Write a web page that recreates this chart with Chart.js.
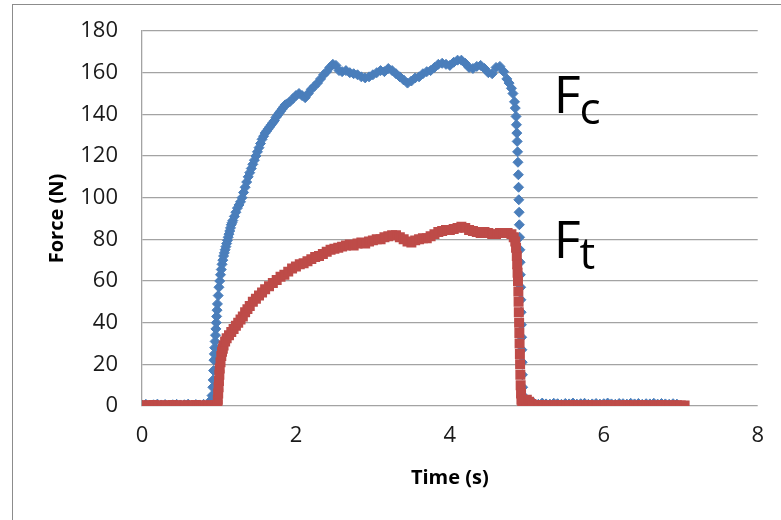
<!DOCTYPE html>
<html lang="en">
<head>
  <meta charset="UTF-8" />
  <title>Force vs Time</title>
  <script src="https://cdn.jsdelivr.net/npm/chart.js"></script>
  <style>
    html, body { margin: 0; padding: 0; background: #fff; overflow: hidden; }
    #wrap { position: relative; width: 781px; height: 520px; }
    #frame { position: absolute; left: 12px; top: 4px; width: 800px; height: 560px;
             border: 1.5px solid #8c8c8c; pointer-events: none; }
  </style>
</head>
<body>
<div id="wrap">
  <canvas id="forceChart" width="781" height="520"></canvas>
  <div id="frame"></div>
</div>

<script>
  // cutting force Fc (blue diamonds)
  const fcTime = [
    0, 0.05, 0.1, 0.15, 0.2, 0.25, 0.3, 0.35, 0.4, 0.45, 0.5, 0.55, 0.6, 0.65, 0.7, 0.75, 0.8, 0.85,
    0.88, 0.9, 0.91, 0.92, 0.925, 0.93, 0.935, 0.94, 0.945, 0.95, 0.955, 0.96, 0.965, 0.97, 0.975, 0.98, 0.99,
    1.0, 1.01, 1.02, 1.03, 1.04, 1.05, 1.06, 1.07, 1.08, 1.09, 1.1, 1.11, 1.12, 1.13, 1.14, 1.15, 1.16, 1.17,
    1.18, 1.2, 1.22, 1.24, 1.26, 1.28, 1.3, 1.32, 1.34, 1.36, 1.38, 1.4, 1.42, 1.44, 1.46, 1.48, 1.5, 1.52,
    1.54, 1.56, 1.58, 1.6, 1.62, 1.64, 1.66, 1.68, 1.7, 1.72, 1.74, 1.76, 1.78, 1.8, 1.82, 1.84, 1.86, 1.88,
    1.92, 1.96, 2.0, 2.04, 2.08, 2.12, 2.16, 2.2, 2.24, 2.28, 2.32, 2.36, 2.4, 2.44, 2.48, 2.52, 2.56, 2.6,
    2.65, 2.7, 2.75, 2.8, 2.85, 2.9, 2.95, 3.0, 3.05, 3.1, 3.15, 3.2, 3.25, 3.3, 3.35, 3.4, 3.45, 3.5, 3.55, 3.6,
    3.65, 3.7, 3.75, 3.8, 3.85, 3.9, 3.95, 4.0, 4.05, 4.1, 4.15, 4.2, 4.25, 4.3, 4.35, 4.4, 4.45, 4.5, 4.55, 4.6,
    4.65, 4.7, 4.74, 4.77, 4.8, 4.82, 4.84, 4.85, 4.86, 4.865, 4.87, 4.875, 4.88, 4.885, 4.89, 4.893, 4.896,
    4.9, 4.903, 4.906, 4.91, 4.913, 4.916, 4.92, 4.923, 4.926, 4.93, 4.933, 4.936, 4.94, 4.943, 4.946, 4.95, 4.96,
    5.0, 5.05, 5.1, 5.15, 5.2, 5.25, 5.3, 5.35, 5.4, 5.45, 5.5, 5.55, 5.6, 5.65, 5.7, 5.75, 5.8, 5.85, 5.9, 5.95,
    6.0, 6.05, 6.1, 6.15, 6.2, 6.25, 6.3, 6.35, 6.4, 6.45, 6.5, 6.55, 6.6, 6.65, 6.7, 6.75, 6.8, 6.85, 6.9, 6.95
  ];
  const fcForce = [
    0.5, 0.8, 0.4, 0.6, 0.9, 0.5, 0.7, 0.4, 0.6, 0.8, 0.5, 0.6, 0.9, 0.4, 0.7, 0.5, 0.8, 0.6,
    1, 3, 5, 9, 12.5, 17, 22, 25, 28, 31, 34, 37, 40, 43, 46, 49, 53,
    57, 60, 63, 65.5, 68, 70, 72, 73.5, 75, 76.5, 78, 79.5, 81, 82.5, 84, 85.5, 87, 88,
    89, 91, 93, 95, 96.5, 98, 100, 102.5, 105, 107.5, 110, 112, 114, 116, 118, 120, 122, 124,
    126, 128, 129.5, 131, 132, 133, 134, 135, 136, 137, 138.5, 139.5, 140.5, 141.5, 142.5, 143.5, 144.5, 145,
    146, 147.5, 149, 150, 149, 148, 150, 152, 153.5, 155, 157, 159, 160.5, 162.5, 164, 163.5, 161, 160.5,
    161, 160, 159.5, 159, 158, 157.5, 158, 159, 160, 161, 160.5, 162, 161, 159.5, 158, 156.5, 155, 156, 157.5, 158,
    159.5, 160.5, 161, 162.5, 164, 164.5, 164, 163.5, 165, 166, 166, 164.5, 162.5, 162, 163, 163.5, 162, 160, 159.5, 162.5,
    163, 160.5, 157, 155, 152.5, 150, 146, 143, 139, 135, 131, 127, 122, 117, 111, 105, 99,
    93, 87, 81, 75, 69, 63, 57, 51, 45, 39, 33, 27, 21, 15, 9, 5, 1.5,
    1.5, 1, 1.2, 0.8, 1.4, 1, 0.9, 1.3, 1.1, 0.8, 1.2, 1, 1.4, 0.9, 1.1, 1.3, 0.8, 1, 1.2, 0.9,
    1.1, 1.4, 1, 0.8, 1.2, 1.1, 0.9, 1.3, 1, 1.2, 0.8, 1.1, 1, 1.3, 0.9, 1.2, 1, 0.8, 1.1, 0.9
  ];

  // thrust force Ft (red squares)
  const ftTime = [
    0, 0.05, 0.1, 0.15, 0.2, 0.25, 0.3, 0.35, 0.4, 0.45, 0.5, 0.55, 0.6, 0.65, 0.7, 0.75, 0.8, 0.85, 0.9, 0.95,
    0.98, 0.985, 0.99, 0.995, 1.0, 1.005, 1.01, 1.02, 1.03, 1.04, 1.05, 1.06, 1.08, 1.1, 1.13, 1.16, 1.19, 1.22,
    1.25, 1.28, 1.31, 1.34, 1.37, 1.4, 1.44, 1.48, 1.52, 1.56, 1.6, 1.65, 1.7, 1.75, 1.8, 1.85, 1.9, 1.95,
    2.0, 2.05, 2.1, 2.15, 2.2, 2.25, 2.3, 2.35, 2.4, 2.45, 2.5, 2.55, 2.6, 2.65, 2.7, 2.75, 2.8, 2.85, 2.9, 2.95,
    3.0, 3.05, 3.1, 3.15, 3.2, 3.25, 3.3, 3.35, 3.4, 3.45, 3.5, 3.55, 3.6, 3.65, 3.7, 3.75, 3.8, 3.85, 3.9, 3.95,
    4.0, 4.05, 4.1, 4.15, 4.2, 4.25, 4.3, 4.35, 4.4, 4.45, 4.5, 4.55, 4.6, 4.65, 4.7, 4.75, 4.8, 4.83,
    4.85, 4.86, 4.87, 4.875, 4.88, 4.885, 4.89, 4.893, 4.896, 4.9, 4.903, 4.906, 4.91, 4.913, 4.916, 4.92, 4.925,
    4.93, 4.94, 4.97, 5.0, 5.03, 5.06,
    5.1, 5.15, 5.2, 5.25, 5.3, 5.35, 5.4, 5.45, 5.5, 5.55, 5.6, 5.65, 5.7, 5.75, 5.8, 5.85, 5.9, 5.95, 6.0, 6.05,
    6.1, 6.15, 6.2, 6.25, 6.3, 6.35, 6.4, 6.45, 6.5, 6.55, 6.6, 6.65, 6.7, 6.75, 6.8, 6.85, 6.9, 6.95, 7.0, 7.05
  ];
  const ftForce = [
    0.2, 0.4, 0.3, 0.5, 0.3, 0.2, 0.4, 0.3, 0.5, 0.4, 0.2, 0.3, 0.4, 0.3, 0.5, 0.2, 0.3, 0.4, 0.3, 0.4,
    0.5, 3, 6, 9, 12, 15, 18, 21, 24, 26, 27.5, 29, 31, 32.5, 34, 35.5, 37, 38.5,
    40, 41.5, 43, 45, 46.5, 48, 50, 51.5, 53, 54.5, 56, 57.5, 59, 60.5, 62, 63, 64.5, 66,
    67, 68, 68.5, 69.5, 70.5, 71.5, 72, 73, 74, 75, 75.5, 76, 76.5, 77, 77.5, 77, 78, 78.5, 78, 79,
    79.5, 80, 80, 81, 81.5, 82, 82, 81, 80, 79, 78.5, 79.5, 80, 80.5, 80.5, 81.5, 82.5, 83.5, 84, 84.5,
    84.5, 85, 85.5, 86, 85.5, 84.5, 84, 83.5, 83, 83.5, 83, 82.5, 82.5, 83, 83, 83, 82.5, 81,
    79, 76, 72, 68, 64, 60, 55, 50, 45, 40, 35, 30, 25, 20, 15, 10, 6,
    3, 1.5, 2.5, 3, 2, 1,
    0.4, 0.3, 0.5, 0.4, 0.3, 0.4, 0.5, 0.3, 0.4, 0.3, 0.5, 0.4, 0.3, 0.4, 0.5, 0.3, 0.4, 0.3, 0.4, 0.5,
    0.3, 0.4, 0.4, 0.3, 0.5, 0.4, 0.3, 0.4, 0.5, 0.3, 0.4, 0.3, 0.4, 0.5, 0.3, 0.4, 0.3, 0.4, 0.3, 0.2
  ];

  const yTicks = [0, 20, 40, 60, 80, 100, 120, 140, 160, 180];
  const xTicks = [0, 2, 4, 6, 8];

  const toPoints = (ts, vs) => ts.map((t, i) => ({ x: t, y: vs[i] }));

  // "Fc" / "Ft" labels next to the curves
  const curveLabels = [
    { sub: 'c', t: 5.35, f: 140.5 },
    { sub: 't', t: 5.35, f: 71 }
  ];
  const labelPlugin = {
    id: 'curveLabels',
    afterDatasetsDraw(chart) {
      const c = chart.ctx;
      const xs = chart.scales.x, ys = chart.scales.y;
      c.save();
      c.fillStyle = '#000';
      c.textBaseline = 'alphabetic';
      curveLabels.forEach(l => {
        const px = xs.getPixelForValue(l.t);
        const py = ys.getPixelForValue(l.f);
        c.font = '52px "Open Sans"';
        c.fillText('F', px, py);
        const w = c.measureText('F').width;
        c.font = '44px "Open Sans"';
        c.fillText(l.sub, px + w - 1, py + 11);
      });
      c.restore();
    }
  };

  const ctx = document.getElementById('forceChart').getContext('2d');
  new Chart(ctx, {
    type: 'scatter',
    data: {
      datasets: [
        {
          label: 'Fc',
          data: toPoints(fcTime, fcForce),
          pointStyle: 'rectRot',
          pointRadius: 5,
          borderWidth: 1,
          backgroundColor: '#4a7ebb',
          borderColor: '#4a7ebb',
          order: 2
        },
        {
          label: 'Ft',
          data: toPoints(ftTime, ftForce),
          pointStyle: 'rect',
          pointRadius: 6,
          borderWidth: 1.5,
          backgroundColor: '#be4b48',
          borderColor: '#be4b48',
          order: 1
        }
      ]
    },
    options: {
      responsive: false,
      animation: false,
      events: [],
      layout: { padding: { top: 31, right: 21, left: 0, bottom: 0 } },
      plugins: { legend: { display: false }, tooltip: { enabled: false } },
      scales: {
        x: {
          type: 'linear',
          min: 0, max: 8,
          afterFit: s => { s.height = 114; },
          afterBuildTicks: s => { s.ticks = xTicks.map(v => ({ value: v })); },
          grid: { display: false, drawTicks: false },
          border: { display: false },
          ticks: { padding: 17, color: '#1a1a1a', font: { family: 'Open Sans', size: 22 } },
          title: {
            display: true, text: 'Time (s)', color: '#000',
            font: { family: 'Open Sans', size: 20, weight: 'bold' },
            padding: { bottom: 30 }
          }
        },
        y: {
          type: 'linear',
          min: 0, max: 180,
          afterFit: s => { s.width = 142; },
          afterBuildTicks: s => { s.ticks = yTicks.map(v => ({ value: v })); },
          grid: {
            color: '#a3a3a3', lineWidth: 1.3,
            drawTicks: true, tickLength: 24, tickColor: 'rgba(0,0,0,0)'
          },
          border: { display: true, color: '#a3a3a3', width: 1.3 },
          ticks: { padding: 0, color: '#1a1a1a', font: { family: 'Open Sans', size: 22 } },
          title: {
            display: true, text: 'Force (N)', color: '#000',
            font: { family: 'Open Sans', size: 20, weight: 'bold' },
            padding: { top: 45 }
          }
        }
      }
    },
    plugins: [labelPlugin]
  });
</script>
</body>
</html>
